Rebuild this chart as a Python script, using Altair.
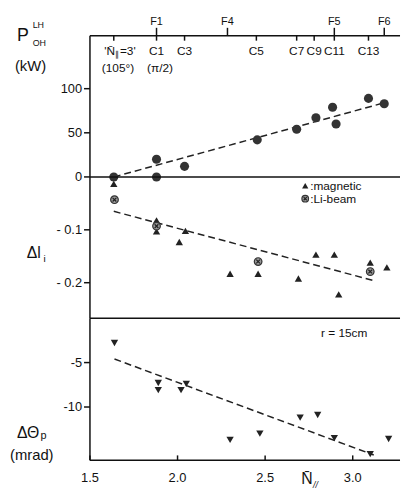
import altair as alt
import pandas as pd

FONT = "Liberation Sans"
W = 314
H_TOP, H_MID, H_BOT = 143, 143, 144
XDOM = [1.5, 3.27]

# ---- data ----
# top panel: P_OH^LH (kW)
p_x = [1.636, 1.88, 1.88, 2.04, 2.455, 2.68, 2.79, 2.885, 2.905, 3.09, 3.18]
p_y = [0, 20, 0, 12, 42, 54, 67, 79, 60, 89, 83]
p_fit_x = [1.636, 3.18]
p_fit_y = [0, 84]

# middle panel: delta l_i
mag_x = [1.636, 1.88, 1.88, 2.045, 2.01, 2.30, 2.46, 2.69, 2.79, 2.895, 2.92, 3.10, 3.195]
mag_y = [-0.013, -0.082, -0.103, -0.102, -0.123, -0.183, -0.183, -0.192, -0.147, -0.147, -0.222, -0.162, -0.171]
li_x = [1.64, 1.88, 2.46, 3.10]
li_y = [-0.043, -0.093, -0.160, -0.179]
li_fit_x = [1.636, 3.12]
li_fit_y = [-0.065, -0.196]

# bottom panel: delta theta_p (mrad)
th_x = [1.64, 1.89, 1.89, 2.02, 2.05, 2.30, 2.47, 2.70, 2.80, 2.895, 3.10, 3.205]
th_y = [-2.8, -7.3, -8.1, -8.1, -7.4, -13.7, -13.0, -11.2, -10.9, -13.5, -15.3, -13.6]
th_fit_x = [1.64, 3.12]
th_fit_y = [-4.6, -15.4]

# top axis (antenna phasing labels)
f_labels = ["F1", "F4", "F5", "F6"]
f_x = [1.88, 2.285, 2.895, 3.18]
c_labels = ["C1", "C3", "C5", "C7", "C9", "C11", "C13"]
c_x = [1.88, 2.04, 2.45, 2.68, 2.78, 2.895, 3.09]
n3_x = [1.636]

# axis ticks and labels
x_ticks = [1.5, 2.0, 2.5, 3.0]
x_tick_labels = ["1.5", "2.0", "2.5", "3.0"]
top_ticks = [100, 50]
top_tick_labels = ["100", "50"]
mid_ticks = [0, -0.1, -0.2]
mid_tick_labels = ["0", "- 0.1", "- 0.2"]
bot_ticks = [-5, -10]
bot_tick_labels = ["-5", "-10"]

INK = "#111"
xs = alt.Scale(domain=XDOM, nice=False, zero=False)


def X():
    return alt.X("x:Q", scale=xs, axis=None)


def one():
    return pd.DataFrame({"d": [0]})


def rule_h(y):
    return alt.Chart(one()).mark_rule(color=INK, strokeWidth=1.5).encode(
        x=alt.value(0), x2=alt.value(W), y=alt.value(y))


def rule_left(h):
    return alt.Chart(one()).mark_rule(color=INK, strokeWidth=1.5).encode(
        x=alt.value(0), y=alt.value(0), y2=alt.value(h))


def txt(s, x, y, size=13, align="left", italic=False):
    return alt.Chart(one()).mark_text(
        text=s, align=align, baseline="alphabetic", fontSize=size, font=FONT,
        fontStyle="italic" if italic else "normal", color=INK
    ).encode(x=alt.value(x), y=alt.value(y))


def y_axis_layers(vals, labs, Y):
    d = pd.DataFrame({"y": vals, "lab": labs})
    ticks = alt.Chart(d).mark_rule(color=INK, strokeWidth=1.5).encode(
        x=alt.value(-6), x2=alt.value(0), y=Y)
    labels = alt.Chart(d).mark_text(align="right", baseline="middle", fontSize=13, font=FONT,
                                    color=INK).encode(x=alt.value(-8), y=Y, text="lab:N")
    return [ticks, labels]


def fit_line(df, Y):
    return alt.Chart(df).mark_line(color="#222", strokeWidth=1.5, strokeDash=[7, 4]).encode(x=X(), y=Y)


# ---------- top panel ----------
dp = pd.DataFrame({"x": p_x, "y": p_y})
dpf = pd.DataFrame({"x": p_fit_x, "y": p_fit_y})
ytop = alt.Y("y:Q", scale=alt.Scale(domain=[0, 160], nice=False, zero=False), axis=None)

top_pts = alt.Chart(dp).mark_point(shape="circle", filled=True, size=85, color="#333", opacity=1).encode(x=X(), y=ytop)

df_f = pd.DataFrame({"x": f_x, "lab": f_labels})
df_c = pd.DataFrame({"x": c_x, "lab": c_labels})
df_n3 = pd.DataFrame({"x": n3_x})
f_ticks = alt.Chart(df_f).mark_rule(color=INK, strokeWidth=1.5).encode(x=X(), y=alt.value(-8), y2=alt.value(0))
c_ticks = alt.Chart(pd.concat([df_c[["x"]], df_n3])).mark_rule(color=INK, strokeWidth=1.5).encode(
    x=X(), y=alt.value(0), y2=alt.value(5))
f_text = alt.Chart(df_f).mark_text(baseline="alphabetic", fontSize=11, font=FONT, color=INK).encode(
    x=X(), y=alt.value(-11), text="lab:N")
c_text = alt.Chart(df_c).mark_text(baseline="alphabetic", fontSize=12, font=FONT, color=INK).encode(
    x=X(), y=alt.value(20), text="lab:N")
d_n3 = pd.DataFrame({"x": [1.66]})
n3_a = alt.Chart(d_n3).mark_text(text="'N\u0304", align="right", baseline="alphabetic", fontSize=12,
                                 font=FONT, color=INK, dx=-3).encode(x=X(), y=alt.value(20))
n3_b = alt.Chart(d_n3).mark_text(text="\u2225", align="center", baseline="alphabetic", fontSize=8,
                                 font=FONT, color=INK, dx=-1).encode(x=X(), y=alt.value(22))
n3_c = alt.Chart(d_n3).mark_text(text="=3'", align="left", baseline="alphabetic", fontSize=12,
                                 font=FONT, color=INK, dx=2).encode(x=X(), y=alt.value(20))
n3_sub = alt.Chart(pd.DataFrame({"x": [1.66, 1.90], "lab": ["(105\u00b0)", "(\u03c0/2)"]})).mark_text(
    baseline="alphabetic", fontSize=12, font=FONT, color=INK).encode(x=X(), y=alt.value(37), text="lab:N")

top = alt.layer(
    rule_h(0), rule_left(H_TOP), *y_axis_layers(top_ticks, top_tick_labels, ytop),
    fit_line(dpf, ytop), top_pts, f_ticks, c_ticks, f_text, c_text, n3_a, n3_b, n3_c, n3_sub,
    txt("P", -74, 5, 18), txt("LH", -58, -8, 9), txt("OH", -58, 10, 9), txt("(kW)", -76, 36, 15),
).properties(width=W, height=H_TOP)

# ---------- middle panel ----------
dm = pd.DataFrame({"x": mag_x, "y": mag_y})
dl = pd.DataFrame({"x": li_x, "y": li_y})
dlf = pd.DataFrame({"x": li_fit_x, "y": li_fit_y})
ymid = alt.Y("y:Q", scale=alt.Scale(domain=[-0.267, 0], nice=False, zero=False), axis=None)

mag_pts = alt.Chart(dm).mark_point(shape="triangle-up", filled=True, size=55, color="#222", opacity=1).encode(x=X(), y=ymid)
li_pts = alt.Chart(dl).mark_point(shape="circle", filled=True, size=60, fill="#999", stroke="#333",
                                  strokeWidth=1.2, opacity=1).encode(x=X(), y=ymid)
li_cross = alt.Chart(dl).mark_point(shape="M-1,-1L1,1M-1,1L1,-1", filled=False, size=14, color="#222",
                                    strokeWidth=1.2, opacity=1).encode(x=X(), y=ymid)
leg_tri = alt.Chart(one()).mark_point(shape="triangle-up", filled=True, size=40,
                                      color="#222", opacity=1).encode(x=alt.value(218), y=alt.value(9))
leg_li = alt.Chart(one()).mark_point(shape="circle", filled=True, size=45, fill="#999",
                                     stroke="#333", strokeWidth=1.2, opacity=1).encode(
    x=alt.value(218), y=alt.value(22))
leg_lix = alt.Chart(one()).mark_point(shape="M-1,-1L1,1M-1,1L1,-1", filled=False, size=10,
                                      color="#222", strokeWidth=1.2, opacity=1).encode(
    x=alt.value(218), y=alt.value(22))

mid = alt.layer(
    rule_h(0), rule_left(H_MID), *y_axis_layers(mid_ticks, mid_tick_labels, ymid),
    fit_line(dlf, ymid), mag_pts, li_pts, li_cross, leg_tri, leg_li, leg_lix,
    txt(":magnetic", 223, 13, 12), txt(":Li-beam", 223, 26, 12),
    txt("\u0394l", -64, 82, 16), txt("i", -47, 86, 10),
).properties(width=W, height=H_MID)

# ---------- bottom panel ----------
dt = pd.DataFrame({"x": th_x, "y": th_y})
dtf = pd.DataFrame({"x": th_fit_x, "y": th_fit_y})
ybot = alt.Y("y:Q", scale=alt.Scale(domain=[-16, 0], nice=False, zero=False), axis=None)

bot_pts = alt.Chart(dt).mark_point(shape="triangle-down", filled=True, size=55, color="#222", opacity=1).encode(x=X(), y=ybot)
dxt = pd.DataFrame({"x": x_ticks, "lab": x_tick_labels})
bot_xticks = alt.Chart(dxt).mark_rule(color=INK, strokeWidth=1.5).encode(
    x=X(), y=alt.value(H_BOT - 5), y2=alt.value(H_BOT))
bot_xlabels = alt.Chart(dxt).mark_text(baseline="alphabetic", fontSize=13, font=FONT, color=INK).encode(
    x=X(), y=alt.value(H_BOT + 22), text="lab:N")

bot = alt.layer(
    rule_h(0), rule_h(H_BOT), rule_left(H_BOT), *y_axis_layers(bot_ticks, bot_tick_labels, ybot),
    fit_line(dtf, ybot), bot_pts, bot_xticks, bot_xlabels,
    txt("r = 15cm", 234, 19, 12),
    txt("\u0394\u0398", -74, 121, 16), txt("p", -50, 122, 11), txt("(mrad)", -81, 144, 15),
    txt("N\u0304", 214, 168, 16), txt("//", 226, 172, 9, italic=True),
).properties(width=W, height=H_BOT)

chart = alt.vconcat(top, mid, bot, spacing=0, bounds="flush").properties(
    padding={"left": 2, "top": 5, "right": 0, "bottom": 0}, background="white"
).configure_view(stroke=None)

chart.save("out.html", embed_options={"renderer": "svg", "actions": False})
